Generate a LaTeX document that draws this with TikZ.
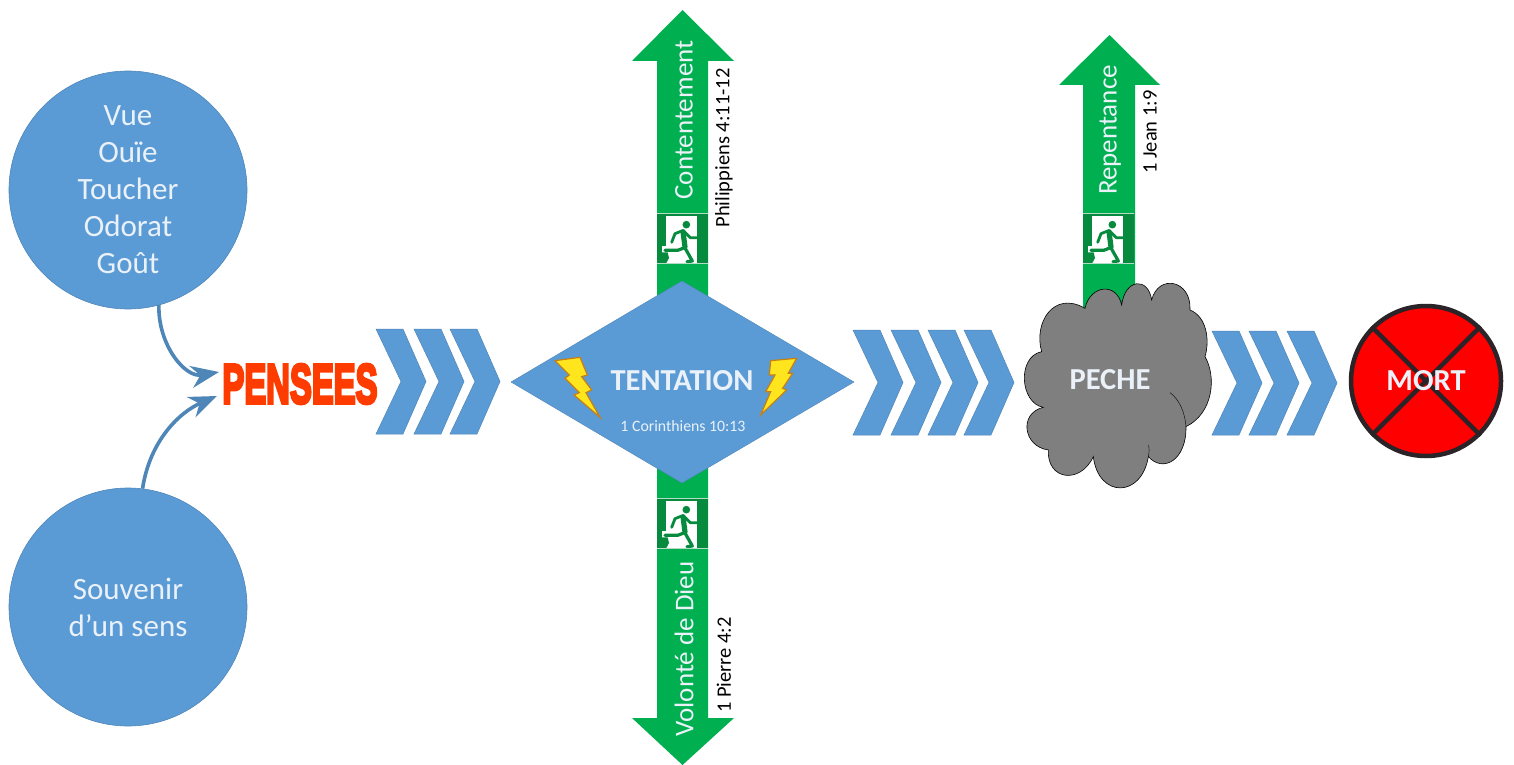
\documentclass[tikz,border=0pt]{standalone}
\usepackage{fontspec}
\usepackage{graphicx}
\setmainfont{Carlito}
\newfontfamily\heavyfont[FakeBold=6]{Liberation Sans Bold}
\usetikzlibrary{arrows.meta}
\definecolor{bluefill}{HTML}{5B9BD5}
\definecolor{blueedge}{HTML}{4F86B8}
\definecolor{greenfill}{HTML}{00B050}
\definecolor{greendark}{HTML}{068A3E}
\definecolor{cloudgrey}{HTML}{7F7F7F}
\definecolor{darkx}{HTML}{2A2328}
\definecolor{boltfill}{HTML}{FFE51E}
\definecolor{boltedge}{HTML}{C67F14}
\definecolor{penseecol}{HTML}{FF3C00}
\definecolor{softwhite}{HTML}{EAF1F8}
\tikzset{
  bluedisc/.style={circle,fill=bluefill,draw=blueedge,line width=0.6pt,minimum size=238pt,inner sep=0pt,align=center,text=softwhite,font=\fontsize{31}{37}\selectfont},
  chevronshape/.style={fill=bluefill,draw=blueedge,line width=0.5pt},
  greenarrow/.style={fill=greenfill,draw=none},
  boltshape/.style={fill=boltfill,draw=boltedge,line width=1.2pt,line join=miter},
  whitelabel/.style={text=softwhite,font=\fontsize{30.5}{34}\selectfont\bfseries},
  shaftlabel/.style={rotate=90,text=softwhite,font=\fontsize{27}{30}\selectfont},
  versel/.style={rotate=90,text=black,font=\fontsize{20.5}{24}\selectfont},
  feed/.style={draw=blueedge,line width=3.6pt,-{Stealth[length=28pt,width=22pt,inset=9pt]}}
}
\newcommand{\chev}[3]{% x, top, bottom
  \draw[chevronshape] (#1,#2) -- ++(27,0) -- ({#1+50},{(#2+#3)/2}) -- ({#1+27},#3) -- (#1,#3) -- ({#1+25},{(#2+#3)/2}) -- cycle;}
\newcommand{\exitsign}[2]{%
  \begin{scope}[shift={(#1,#2)},x=0.3333pt,y=-0.3333pt]
    \fill[greendark] (0,0) rectangle (152,152);
    \fill[white] (28,10) rectangle (120,150);
    \fill[white] (14,100) rectangle (30,122);
    \fill[greendark] (14,118) -- (32,118) -- (36,135) -- (28,150) -- (14,150) -- cycle;
    \fill[greendark] (88,35) circle (11.5);
    \draw[greendark,line width=5.2pt,line cap=round,line join=round] (78,56) -- (84,102);
    \draw[greendark,line width=2.8pt,line cap=round,line join=round] (74,54) -- (54,62) -- (44,88);
    \draw[greendark,line width=2.8pt,line cap=round,line join=round] (80,54) -- (100,74) -- (120,74);
    \draw[greendark,line width=3.2pt,line cap=round,line join=round] (84,105) -- (106,144) -- (90,146);
    \draw[greendark,line width=3.2pt,line cap=round,line join=round] (80,105) -- (62,112) -- (24,112);
    \draw[white,opacity=0.7,line width=0.8pt] (0,0) -- (152,0) (0,152) -- (152,152);
  \end{scope}}
\begin{document}
\begin{tikzpicture}[x=1pt,y=-1pt]
\useasboundingbox (0,0) rectangle (1514,765);
\fill[white] (0,0) rectangle (1514,765);

% green exit arrows
\fill[greenarrow] (682.5,10) -- (734,61) -- (708,61) -- (708,300) -- (657,300) -- (657,61) -- (632,61) -- cycle;
\fill[greenarrow] (682.5,765) -- (734,718) -- (708,718) -- (708,460) -- (657,460) -- (657,718) -- (632,718) -- cycle;
\fill[greenarrow] (1109.5,35) -- (1160,85) -- (1135,85) -- (1135,310) -- (1083,310) -- (1083,85) -- (1059,85) -- cycle;
\exitsign{657}{213}
\exitsign{657}{498}
\exitsign{1083}{213}

% exit labels
\node[shaftlabel] (cont) at (684,120) {Contentement};
\node[versel] (phil) at (724,148) {Philippiens 4:11-12};
\node[shaftlabel] (volo) at (684,649) {Volonté de Dieu};
\node[versel] (pier) at (724,665) {1 Pierre 4:2};
\node[shaftlabel] (repe) at (1110,130) {Repentance};
\node[versel] (jean) at (1150,132) {1 Jean 1:9};

% sense discs
\node[bluedisc] (senses) at (128,190) {Vue\\Ouïe\\Toucher\\Odorat\\Goût};
\node[bluedisc] (memory) at (128,607) {Souvenir\\d’un sens};

% PENSEES
\node[inner sep=0pt,text=penseecol] (pensees) at (300,384) {\resizebox{155pt}{39pt}{\heavyfont PENSEES}};
\coordinate (tipA) at (219,372);
\coordinate (tipB) at (217,396);
\draw[feed] (senses.-75) .. controls (158,345) and (185,378) .. (tipA);
\draw[feed] (memory.83) .. controls (150,440) and (180,412) .. (tipB);

% chevrons
\foreach \x in {376,414,450} {\chev{\x}{329}{434}}
\foreach \x in {853,891,928,964} {\chev{\x}{330}{435}}
\foreach \x in {1212,1249,1287} {\chev{\x}{331}{435}}

% diamond
\draw[fill=bluefill,draw=blueedge,line width=0.4pt] (511,382) -- (682,281) -- (854,382) -- (682,483) -- cycle;
\begin{scope}[shift={(500,200)},x=0.3333pt,y=-0.3333pt]
  \draw[boltshape] (165,482) -- (240,472) -- (262,525) -- (245,530) -- (275,570) -- (258,578) -- (300,652) -- (222,585) -- (238,578) -- (195,535) -- (208,525) -- cycle;
  \draw[boltshape] (812,482) -- (890,475) -- (865,520) -- (878,520) -- (848,565) -- (860,570) -- (782,645) -- (812,575) -- (797,575) -- (825,525) -- (808,525) -- cycle;
\end{scope}
\node[whitelabel] (tent) at (682,381) {TENTATION};
\node[text=softwhite,font=\fontsize{15.8}{18}\selectfont] (cor) at (683,426) {1 Corinthiens 10:13};

% cloud
\begin{scope}[shift={(1010,200)},x=0.3333pt,y=-0.3333pt]
  \draw[fill=cloudgrey,draw=black,line width=0.6pt]
    (100,622) .. controls (30,610) and (20,470) .. (95,455)
    .. controls (70,370) and (130,270) .. (225,325)
    .. controls (240,255) and (320,245) .. (335,315)
    .. controls (345,235) and (415,230) .. (425,300)
    .. controls (445,220) and (545,240) .. (540,330)
    .. controls (590,350) and (600,420) .. (585,470)
    .. controls (620,530) and (610,640) .. (528,680)
    .. controls (530,780) and (460,820) .. (415,770)
    .. controls (395,895) and (265,895) .. (250,770)
    .. controls (210,855) and (110,840) .. (115,750)
    .. controls (40,740) and (25,640) .. (100,622) -- cycle;
  \draw[black,line width=0.4pt] (480,578) .. controls (510,600) and (525,640) .. (528,680);
  \draw[black,line width=0.4pt] (415,770) .. controls (418,755) and (418,745) .. (416,735);
\end{scope}
\node[whitelabel] (peche) at (1110,380) {PECHE};

% MORT
\node[circle,fill=red,draw=darkx,line width=4.5pt,minimum size=150pt,inner sep=0pt] (mortdisc) at (1426,381) {};
\draw[darkx,line width=4.5pt] (mortdisc.45) -- (mortdisc.225);
\draw[darkx,line width=4.5pt] (mortdisc.135) -- (mortdisc.315);
\node[whitelabel] (mort) at (1426,381) {MORT};
\end{tikzpicture}
\end{document}
